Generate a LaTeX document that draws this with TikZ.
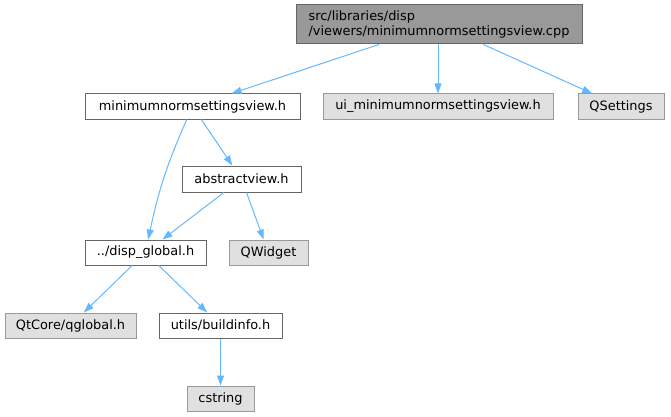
\documentclass[tikz,border=0pt]{standalone}
\usepackage{fontspec}
\setmainfont{DejaVu Sans}
\usetikzlibrary{arrows.meta}
\definecolor{edgeblue}{HTML}{63B8FF}
\definecolor{topfill}{HTML}{999999}
\definecolor{topdraw}{HTML}{666666}
\definecolor{grayfill}{HTML}{E0E0E0}
\definecolor{graydraw}{HTML}{999999}
\begin{document}
\begin{tikzpicture}[x=1pt,y=-1pt,
  box/.style={draw=topdraw, fill=white, line width=1pt, inner sep=0pt, minimum height=25pt, font=\fontsize{12.9}{15}\selectfont},
  ext/.style={box, draw=graydraw, fill=grayfill},
  topbox/.style={box, draw=topdraw, fill=topfill, align=left, minimum height=39pt},
  dep/.style={draw=edgeblue, line width=1pt, -{Triangle[length=10pt,width=7pt]}}]
\useasboundingbox (0,0) rectangle (671,417);
\node[topbox, minimum width=286pt] (top) at (439,24.5) {src/libraries/disp\\/viewers/minimumnormsettingsview.cpp};
\node[box, minimum width=215pt] (mnsv) at (192.5,106.5) {minimumnormsettingsview.h};
\node[ext, minimum width=230pt] (ui) at (438,106.5) {ui\_minimumnormsettingsview.h};
\node[ext, minimum width=86pt] (qs) at (621,106.5) {QSettings};
\node[box, minimum width=119pt, minimum height=26pt] (av) at (241.5,179) {abstractview.h};
\node[box, minimum width=121pt] (dg) at (145.5,252.5) {../disp\_global.h};
\node[ext, minimum width=79pt] (qw) at (268.5,252.5) {QWidget};
\node[ext, minimum width=131pt] (qg) at (70.5,325.5) {QtCore/qglobal.h};
\node[box, minimum width=123pt] (bi) at (220.5,325.5) {utils/buildinfo.h};
\node[ext, minimum width=67pt] (cs) at (220.5,398.5) {cstring};
\draw[dep] (top) -- (mnsv);
\draw[dep] (top.south -| ui.north) -- (ui);
\draw[dep] (top) -- (qs);
\draw[dep] (mnsv) to[bend right=6] (dg);
\draw[dep] (mnsv) -- (av);
\draw[dep] (av) -- (dg);
\draw[dep] (av) -- (qw);
\draw[dep] (dg) -- (qg);
\draw[dep] (dg) -- (bi);
\draw[dep] (bi) -- (cs);
\end{tikzpicture}
\end{document}
